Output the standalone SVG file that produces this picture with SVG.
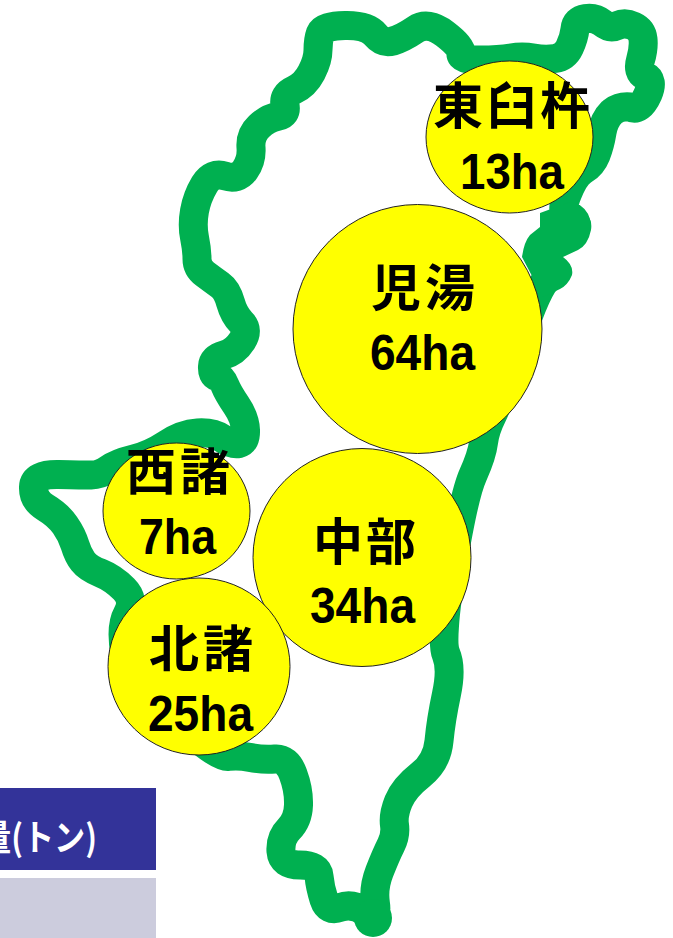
<svg xmlns="http://www.w3.org/2000/svg" width="673" height="938" viewBox="0 0 673 938">
<style>
.coast{fill:none;stroke:#00B050;stroke-width:29;stroke-linejoin:round;stroke-linecap:round}
.lump{fill:#00B050}
.area{fill:#FFFF00;stroke:#222;stroke-width:1}
.jp{font-family:"Noto Sans CJK JP","Liberation Sans",sans-serif;font-weight:700;font-size:50px;fill:#000}
.ha{font-family:"Liberation Sans",sans-serif;font-weight:700;font-size:50px;fill:#000}
.hd{font-family:"Noto Sans CJK JP",sans-serif;font-weight:700;font-size:36px;fill:#fff}
</style>
<rect width="673" height="938" fill="#fff"/>
<g id="legend">
<rect x="-2" y="788" width="158" height="82" fill="#333399"/>
<rect x="-2" y="878" width="158" height="60" fill="#CCCCDD"/>
<text class="hd" x="-20" y="851" textLength="117" lengthAdjust="spacingAndGlyphs">量(トン)</text>
</g>
<g id="connectors">
<path class="coast" d="M320.500 33 Q323 26 345 25.500 Q367 25 375 34.500 Q383 44 393 41 Q403 38 415.500 29.500 Q428 21 445 34 Q462 47 461 53.500 Q460 60 480 60 Q500 60 511 58 Q522 56 533.500 58 Q545 60 555 58.500 Q565 57 569.500 47.500 Q574 38 575 29 Q576 20 585.500 18.500 Q595 17 602.500 23 Q610 29 617.500 25.500 Q625 22 633.500 26 Q642 30 643 39 Q644 48 640.500 60 Q637 72 645 76 Q654 80 648 94 Q640 112 630 107 Q620 106 612 112 Q604 120 602 132.500 Q600 145 596 155 Q592 165 583.500 170 Q575 175 567.500 193.500 Q560 212 567.500 215 Q575 218 576 223 Q577 228 568.500 234 Q560 240 550 242.500 Q540 245 540 251.500 Q540 258 549 265 Q558 272 548 278.500 Q538 285 519 342.500 Q500 400 492.500 415 Q485 430 483.500 442.500 Q482 455 473 475 Q464 495 452 567.500 Q440 640 446 654 Q452 668 446.500 694 Q441 720 439 741 Q437 762 420.500 775 Q404 788 398.500 801.500 Q393 815 394.500 825 Q396 835 391 845 Q386 855 379.500 871.500 Q373 888 375.500 904 Q378 920 365 911.500 Q352 903 340 907.500 Q328 912 324 899.500 Q320 887 319 876 Q318 865 300 865 Q282 865 281 851.500 Q280 838 289 829 Q298 820 298.500 805 Q299 790 293 774 Q287 758 275 759 Q263 760 250.500 757.500 Q238 755 228 756.500 Q218 758 174 719 Q130 680 125 653.500 Q120 627 127.500 613.500 Q135 600 124 589 Q113 578 100.500 573 Q88 568 83 561.500 Q78 555 75 545 Q72 535 65 525 Q58 515 45.500 507.500 Q33 500 33.500 487 Q34 474 58.500 474.500 Q83 475 91.500 475 Q100 475 108.500 469 Q117 463 133.500 459 Q150 455 166 444.500 Q182 434 197.500 433 Q213 432 222.500 438.500 Q232 445 239 443.500 Q246 442 245.500 430 Q245 418 236.500 405.500 Q228 393 225 385.500 Q222 378 217 376.500 Q212 375 212.500 366.500 Q213 358 224 355 Q235 352 242 341 Q249 330 241.500 322.500 Q234 315 230.500 302.500 Q227 290 220 285 Q213 280 205 274 Q197 268 197 259 Q197 250 194.500 237.500 Q192 225 194.500 211 Q197 197 204.500 184.500 Q212 172 225 176 Q238 180 245 170 Q252 160 251 147.500 Q250 135 259 126.500 Q268 118 277.500 116.500 Q287 115 285 105 Q283 95 294 90 Q305 85 311.500 72.500 Q318 60 318 50 Q318 40 320.500 33 Z"/>
<path class="lump" d="M540 213 L570 202 Q578 203 583 210 Q593 218 591 230 Q588 245 578 250 L563 257 Q574 265 572 275 Q568 285 560 289 L543 297 L522 257 Q524 242 530 235 L540 227 Z"/>
<circle class="lump" cx="373" cy="918" r="19"/>
</g>
<g id="higashiusuki"><ellipse class="area" cx="509.500" cy="137" rx="83.500" ry="76"/><text class="jp" x="433" y="124" textLength="157">東臼杵</text><text class="ha" x="460" y="189" textLength="104" lengthAdjust="spacingAndGlyphs">13ha</text></g>
<g id="koyu"><circle class="area" cx="417.500" cy="329" r="124.500"/><text class="jp" x="371" y="306" textLength="104">児湯</text><text class="ha" x="370" y="370" textLength="105" lengthAdjust="spacingAndGlyphs">64ha</text></g>
<g id="chubu"><circle class="area" cx="362" cy="557.500" r="109"/><text class="jp" x="313" y="560" textLength="103">中部</text><text class="ha" x="310" y="623" textLength="105" lengthAdjust="spacingAndGlyphs">34ha</text></g>
<g id="nishimoro"><ellipse class="area" cx="176.500" cy="511" rx="73.500" ry="68"/><text class="jp" x="126" y="490" textLength="104">西諸</text><text class="ha" x="139" y="554" textLength="77" lengthAdjust="spacingAndGlyphs">7ha</text></g>
<g id="kitamoro"><ellipse class="area" cx="199" cy="666.500" rx="91" ry="88.500"/><text class="jp" x="149" y="667" textLength="104">北諸</text><text class="ha" x="148" y="731" textLength="105" lengthAdjust="spacingAndGlyphs">25ha</text></g>
</svg>
